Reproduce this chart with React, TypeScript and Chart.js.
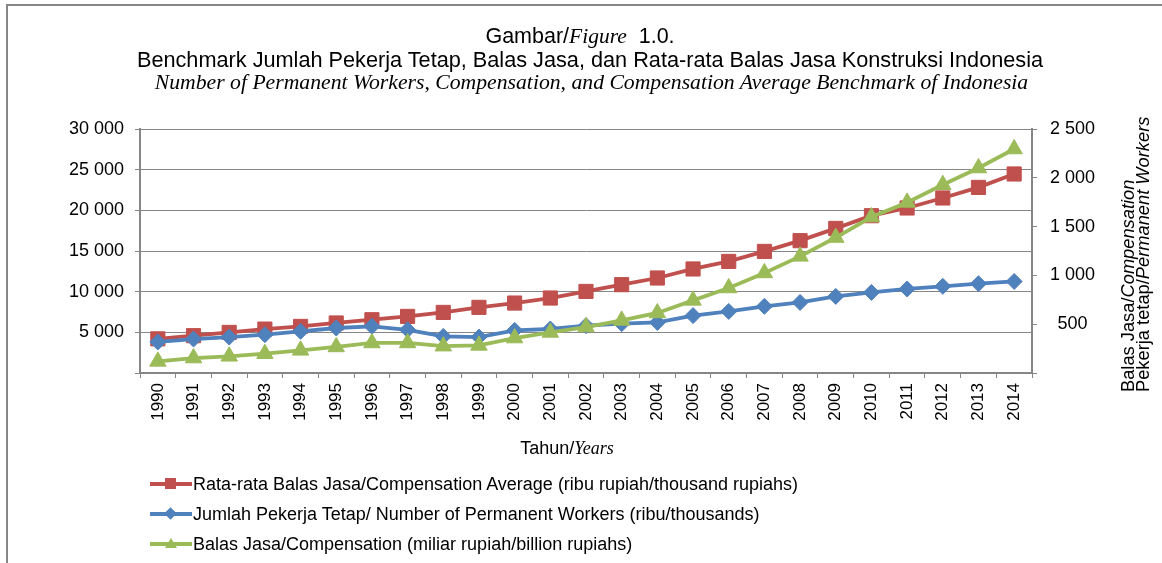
import React, { useEffect, useRef } from 'react';
import { Chart, registerables } from 'chart.js';

Chart.register(...registerables);

// ---- data ----
const years = ['1990', '1991', '1992', '1993', '1994', '1995', '1996', '1997', '1998', '1999', '2000', '2001', '2002', '2003', '2004', '2005', '2006', '2007', '2008', '2009', '2010', '2011', '2012', '2013', '2014'];
// Rata-rata Balas Jasa (ribu rupiah) - left axis
const avgCompensation = [4200, 4590, 4990, 5400, 5730, 6150, 6550, 6960, 7450, 8070, 8600, 9220, 10030, 10860, 11680, 12790, 13720, 14950, 16270, 17780, 19340, 20290, 21520, 22820, 24470];
// Jumlah Pekerja Tetap (ribu) - right axis
const permanentWorkers = [318, 348, 368, 393, 427, 461, 478, 443, 375, 368, 437, 451, 485, 505, 518, 588, 631, 683, 723, 785, 826, 861, 888, 915, 938];
// Balas Jasa (miliar rupiah) - right axis
const compensation = [119, 153, 171, 198, 232, 267, 308, 308, 275, 283, 358, 416, 471, 539, 615, 744, 871, 1025, 1195, 1388, 1598, 1748, 1929, 2100, 2295];

const leftAxisMax = 30000;
const leftAxisStep = 5000;
const rightAxisMax = 2500;
const rightAxisStep = 500;

const seriesLabels = [
  'Rata-rata Balas Jasa/Compensation Average (ribu rupiah/thousand rupiahs)',
  'Jumlah Pekerja Tetap/ Number of Permanent Workers (ribu/thousands)',
  'Balas Jasa/Compensation (miliar rupiah/billion rupiahs)',
];

const RED = '#C0504D';
const BLUE = '#4F81BD';
const GREEN = '#9BBB59';
const AXIS = '#868686';
const SANS = 'Arial, "Liberation Sans", sans-serif';
const SERIF = '"Times New Roman", "Liberation Serif", serif';

const fmt = (v: number | string) => {
  const n = Number(v);
  if (n === 0) return '';
  return String(n).replace(/\B(?=(\d{3})+(?!\d))/g, ' ');
};

function LegendMarker({ kind, color }: { kind: string; color: string }) {
  let shape: React.ReactNode = null;
  if (kind === 'square') {
    shape = <div style={{ position: 'absolute', left: 15, top: 4, width: 11, height: 11, background: color }} />;
  } else if (kind === 'diamond') {
    shape = <div style={{ position: 'absolute', left: 16, top: 5, width: 9, height: 9, background: color, transform: 'rotate(45deg)' }} />;
  } else {
    shape = <div style={{ position: 'absolute', left: 14.5, top: 4, width: 0, height: 0, borderLeft: '6px solid transparent', borderRight: '6px solid transparent', borderBottom: `10px solid ${color}` }} />;
  }
  return (
    <div style={{ position: 'relative', width: 42, height: 20, flex: '0 0 42px' }}>
      <div style={{ position: 'absolute', left: 0, top: 8, width: 42, height: 4, background: color }} />
      {shape}
    </div>
  );
}

export default function App() {
  const canvasRef = useRef<HTMLCanvasElement | null>(null);

  useEffect(() => {
    if (!canvasRef.current) return;
    const chart = new Chart(canvasRef.current, {
      type: 'line',
      data: {
        labels: years,
        datasets: [
          {
            label: seriesLabels[0],
            data: avgCompensation,
            yAxisID: 'y',
            borderColor: RED,
            backgroundColor: RED,
            borderWidth: 3.8,
            pointStyle: 'rect',
            pointRadius: 10,
            pointBorderWidth: 1,
            pointBackgroundColor: RED,
            pointBorderColor: RED,
            order: 3,
          },
          {
            label: seriesLabels[1],
            data: permanentWorkers,
            yAxisID: 'y1',
            borderColor: BLUE,
            backgroundColor: BLUE,
            borderWidth: 3.8,
            pointStyle: 'rectRot',
            pointRadius: 8,
            pointBorderWidth: 1,
            pointBackgroundColor: BLUE,
            pointBorderColor: BLUE,
            order: 2,
          },
          {
            label: seriesLabels[2],
            data: compensation,
            yAxisID: 'y1',
            borderColor: GREEN,
            backgroundColor: GREEN,
            borderWidth: 3.8,
            pointStyle: 'triangle',
            pointRadius: 9.5,
            pointBorderWidth: 1,
            pointBackgroundColor: GREEN,
            pointBorderColor: GREEN,
            order: 1,
          },
        ],
      },
      options: {
        responsive: false,
        animation: false,
        layout: { padding: { top: 129, left: 0, right: 0, bottom: 0 } },
        plugins: {
          legend: { display: false },
          title: { display: false },
          tooltip: { enabled: false },
        },
        scales: {
          x: {
            type: 'category',
            offset: true,
            grid: { offset: true, drawOnChartArea: false, drawTicks: true, tickLength: 5, color: AXIS, lineWidth: 1 },
            border: { color: AXIS, width: 2 },
            ticks: {
              autoSkip: false,
              minRotation: 90,
              maxRotation: 90,
              padding: 5,
              color: '#000',
              font: { family: SANS, size: 17 },
            },
            afterFit: (s: any) => { s.height = 190; },
          },
          y: {
            position: 'left',
            min: 0,
            max: leftAxisMax,
            grid: { color: AXIS, lineWidth: 1, tickLength: 5 },
            border: { color: AXIS, width: 2 },
            ticks: {
              stepSize: leftAxisStep,
              padding: 11,
              color: '#000',
              font: { family: SANS, size: 18 },
              callback: (v: any) => fmt(v),
            },
            afterFit: (s: any) => { s.width = 140; },
          },
          y1: {
            position: 'right',
            min: 0,
            max: rightAxisMax,
            grid: { drawOnChartArea: false, color: AXIS, lineWidth: 1, tickLength: 5 },
            border: { color: AXIS, width: 2 },
            ticks: {
              stepSize: rightAxisStep,
              padding: 13,
              crossAlign: 'center',
              color: '#000',
              font: { family: SANS, size: 18 },
              callback: (v: any) => fmt(v),
            },
            afterFit: (s: any) => { s.width = 130; },
          },
        },
      } as any,
    });
    return () => chart.destroy();
  }, []);

  const legendRows = [
    { kind: 'square', color: RED, y: 484 },
    { kind: 'diamond', color: BLUE, y: 514 },
    { kind: 'triangle', color: GREEN, y: 544 },
  ];

  return (
    <div style={{ position: 'absolute', left: 0, top: 0, width: 1162, height: 563, overflow: 'hidden', background: '#fff', color: '#000' }}>
      <div style={{ position: 'absolute', left: 6, top: 4, width: 1170, height: 600, borderTop: `2px solid ${AXIS}`, borderLeft: `2px solid ${AXIS}` }} />
      <canvas ref={canvasRef} width={1162} height={563} style={{ position: 'absolute', left: 0, top: 0, display: 'block' }} />

      {/* titles */}
      <div style={{ position: 'absolute', left: 0, width: 1160, top: 24, lineHeight: '25px', textAlign: 'center', fontFamily: SANS, fontSize: 21.5, whiteSpace: 'nowrap' }}>
        Gambar/<span style={{ fontFamily: SERIF, fontStyle: 'italic' }}>Figure</span>&nbsp; 1.0.
      </div>
      <div style={{ position: 'absolute', left: 0, width: 1180, top: 47, lineHeight: '25px', textAlign: 'center', fontFamily: SANS, fontSize: 21.7, whiteSpace: 'nowrap' }}>
        Benchmark Jumlah Pekerja Tetap, Balas Jasa, dan Rata-rata Balas Jasa Konstruksi Indonesia
      </div>
      <div style={{ position: 'absolute', left: 0, width: 1183, top: 70, lineHeight: '25px', textAlign: 'center', fontFamily: SERIF, fontStyle: 'italic', fontSize: 21.7, whiteSpace: 'nowrap' }}>
        Number of Permanent Workers, Compensation, and Compensation Average Benchmark of Indonesia
      </div>

      {/* x axis title */}
      <div style={{ position: 'absolute', left: 0, width: 1134, top: 437, lineHeight: '22px', textAlign: 'center', fontFamily: SANS, fontSize: 18, whiteSpace: 'nowrap' }}>
        Tahun/<span style={{ fontFamily: SERIF, fontStyle: 'italic' }}>Years</span>
      </div>

      {/* right axis title */}
      <div style={{ position: 'absolute', left: 1119.5, top: 392, width: 320, transform: 'rotate(-90deg)', transformOrigin: '0 0', fontFamily: SANS, fontSize: 18.3, lineHeight: '15px', whiteSpace: 'nowrap', textAlign: 'left' }}>
        <div>Balas Jasa/<span style={{ fontStyle: 'italic' }}>Compensation</span></div>
        <div>Pekerja tetap/<span style={{ fontStyle: 'italic' }}>Permanent Workers</span></div>
      </div>

      {/* legend */}
      {legendRows.map((r, i) => (
        <div key={i} style={{ position: 'absolute', left: 150, top: r.y - 11, height: 22, display: 'flex', alignItems: 'center', whiteSpace: 'nowrap' }}>
          <LegendMarker kind={r.kind} color={r.color} />
          <span style={{ marginLeft: 1, fontFamily: SANS, fontSize: 18, lineHeight: '22px' }}>{seriesLabels[i]}</span>
        </div>
      ))}
    </div>
  );
}
